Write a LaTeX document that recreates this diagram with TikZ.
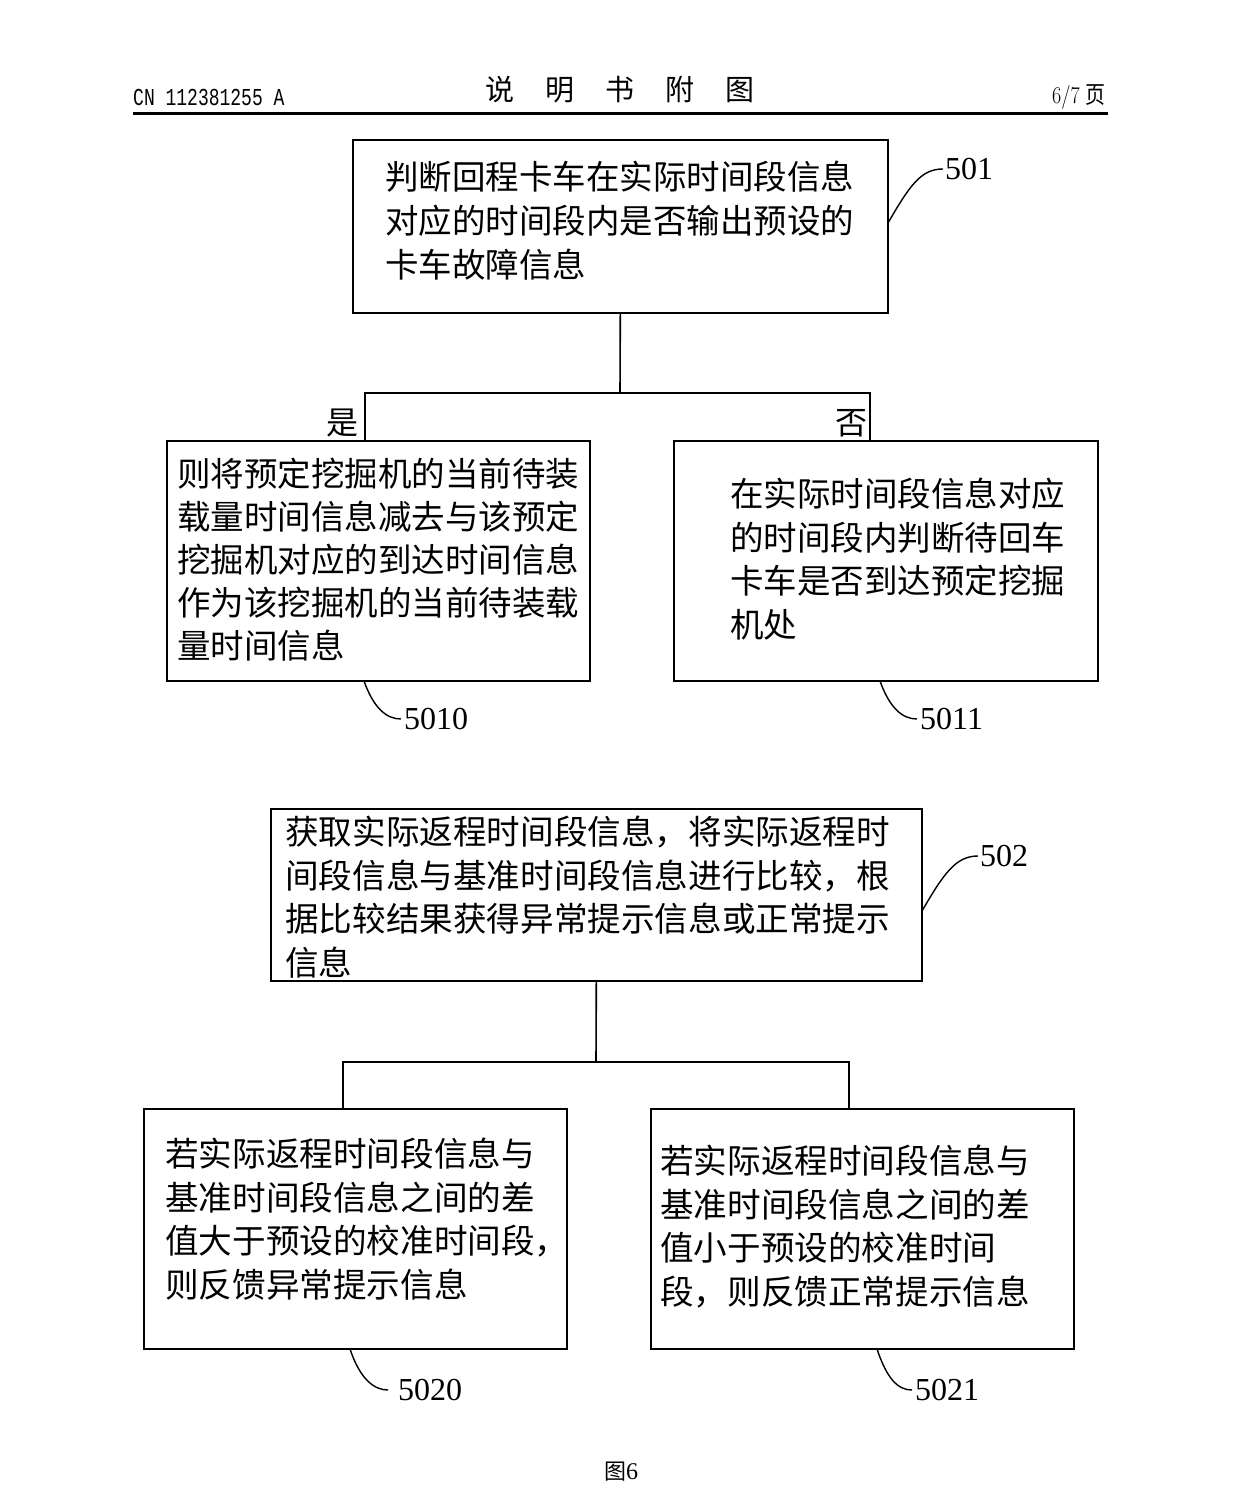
\documentclass[tikz,border=0pt]{standalone}
\usepackage{fontspec}
\newfontfamily\cjk{Noto Sans CJK SC}
\newfontfamily\hdmono{Liberation Mono}
\newfontfamily\numfont{Liberation Serif}
\usetikzlibrary{calc}
\begin{document}
\begin{tikzpicture}[x=1pt,y=-1pt,
  box/.style={draw, line width=1.6pt, anchor=north west, inner sep=0pt},
  txt/.style={anchor=north west, inner sep=0pt, align=left, font=\cjk\fontsize{33.5}{43.5}\selectfont},
  num/.style={anchor=west, inner sep=0pt, font=\numfont\fontsize{32}{32}\selectfont},
  yn/.style={inner sep=0pt, font=\cjk\fontsize{32}{32}\selectfont},
  lead/.style={line width=1.4pt},
  conn/.style={line width=1.6pt}]
\useasboundingbox[fill=white] (0,0) rectangle (1240,1495);

% header
\node[anchor=west, inner sep=0pt, font=\hdmono\fontsize{18}{18}\selectfont] (hl) at (133,97) {\scalebox{1}[1.35]{CN 112381255 A}};
\node[inner sep=0pt, font=\cjk\fontsize{29}{29}\selectfont] (ht) at (620,90) {说\hspace{31pt}明\hspace{31pt}书\hspace{31pt}附\hspace{31pt}图};
\node[anchor=east, inner sep=0pt, font=\fontsize{20}{20}\selectfont] (hr) at (1106,97) {\scalebox{1}[1.2]{6/7 \cjk 页}};
\coordinate (rl) at (133,114);
\coordinate (rr) at (1108,114);
\draw[line width=3pt] (rl) -- (rr);

% boxes
\node[box, minimum width=535pt, minimum height=173pt] (b501) at (352,139) {};
\node[box, minimum width=423pt, minimum height=240pt] (b5010) at (166,440) {};
\node[box, minimum width=424pt, minimum height=240pt] (b5011) at (673,440) {};
\node[box, minimum width=651pt, minimum height=172pt] (b502) at (270,808) {};
\node[box, minimum width=423pt, minimum height=240pt] (b5020) at (143,1108) {};
\node[box, minimum width=423pt, minimum height=240pt] (b5021) at (650,1108) {};

% texts
\node[txt, font=\cjk\fontsize{33.5}{44}\selectfont] (t501) at (385,161) {判断回程卡车在实际时间段信息\\对应的时间段内是否输出预设的\\卡车故障信息};
\node[txt, font=\cjk\fontsize{33.5}{43}\selectfont] (t5010) at (177,458) {则将预定挖掘机的当前待装\\载量时间信息减去与该预定\\挖掘机对应的到达时间信息\\作为该挖掘机的当前待装载\\量时间信息};
\node[txt] (t5011) at (730,478) {在实际时间段信息对应\\的时间段内判断待回车\\卡车是否到达预定挖掘\\机处};
\node[txt, font=\cjk\fontsize{33.6}{43.5}\selectfont] (t502) at (285,816) {获取实际返程时间段信息，将实际返程时\\间段信息与基准时间段信息进行比较，根\\据比较结果获得异常提示信息或正常提示\\信息};
\node[txt, font=\cjk\fontsize{33.6}{43.5}\selectfont] (t5020) at (165,1138) {若实际返程时间段信息与\\基准时间段信息之间的差\\值大于预设的校准时间段，\\则反馈异常提示信息};
\node[txt, font=\cjk\fontsize{33.6}{43.5}\selectfont] (t5021) at (660,1145) {若实际返程时间段信息与\\基准时间段信息之间的差\\值小于预设的校准时间\\段，则反馈正常提示信息};

% tree 1
\coordinate (j1) at (620,393);
\coordinate (a5010) at (365,440);
\coordinate (a5011) at (870,440);
\draw[conn] (b501.south) -- (j1);
\draw[conn] (a5010) |- (j1) -| (a5011);
\node[yn] (yes) at (342,423) {是};
\node[yn] (no) at (851,423) {否};

% tree 2
\coordinate (j2) at (596,1062);
\coordinate (a5020) at (343,1108);
\coordinate (a5021) at (849,1108);
\draw[conn] (b502.south) -- (j2);
\draw[conn] (a5020) |- (j2) -| (a5021);

% reference labels
\node[num] (l501) at (945,169) {501};
\node[num] (l502) at (980,856) {502};
\node[num] (l5010) at (404,719) {5010};
\node[num] (l5011) at (920,719) {5011};
\node[num] (l5020) at (398,1390) {5020};
\node[num] (l5021) at (915,1390) {5021};

\coordinate (s501) at (888,223);
\coordinate (s502) at (922,911);
\coordinate (s5010) at (364,681);
\coordinate (s5011) at (880,681);
\coordinate (s5020) at (350,1349);
\coordinate (s5021) at (877,1349);

\draw[lead] (s501) .. controls +(22,-38) and +(-22,0) .. ([xshift=-2pt]l501.west);
\draw[lead] (s502) .. controls +(22,-38) and +(-22,0) .. ([xshift=-2pt]l502.west);
\draw[lead] (s5010) .. controls +(10,28) and +(-14,0) .. ([xshift=-3pt]l5010.west);
\draw[lead] (s5011) .. controls +(10,28) and +(-14,0) .. ([xshift=-3pt]l5011.west);
\draw[lead] (s5020) .. controls +(10,30) and +(-14,0) .. ([xshift=-10pt]l5020.west);
\draw[lead] (s5021) .. controls +(10,30) and +(-14,0) .. ([xshift=-3pt]l5021.west);

% caption
\node[inner sep=0pt, font=\cjk\fontsize{22}{22}\selectfont] (cap) at (621,1472) {图{\numfont\fontsize{24}{24}\selectfont 6}};
\end{tikzpicture}
\end{document}
